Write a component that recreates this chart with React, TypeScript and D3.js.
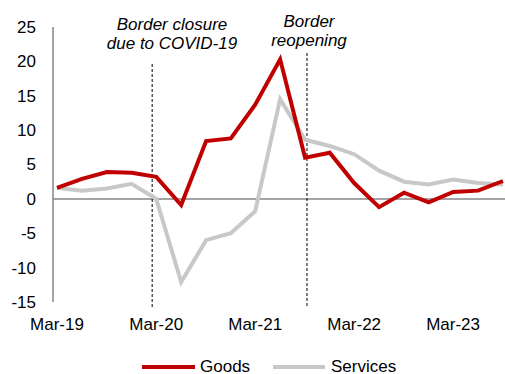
import React from "react";
import * as d3 from "d3";

const quarters = [
  "2019-03", "2019-06", "2019-09", "2019-12",
  "2020-03", "2020-06", "2020-09", "2020-12",
  "2021-03", "2021-06", "2021-09", "2021-12",
  "2022-03", "2022-06", "2022-09", "2022-12",
  "2023-03", "2023-06", "2023-09",
];
const goods = [1.6, 2.9, 3.9, 3.8, 3.2, -0.9, 8.4, 8.8, 13.7, 20.3, 6.0, 6.7, 2.3, -1.2, 0.9, -0.5, 1.0, 1.2, 2.6];
const services = [1.6, 1.2, 1.5, 2.2, 0.0, -12.1, -6.0, -5.0, -1.8, 14.5, 8.6, 7.7, 6.5, 4.1, 2.5, 2.1, 2.8, 2.3, 2.1];
const yTicks = [-15, -10, -5, 0, 5, 10, 15, 20, 25];
const xTickDates = ["2019-03", "2020-03", "2021-03", "2022-03", "2023-03"];
const events = [
  { date: "2020-02-15", lines: ["Border closure", "due to COVID-19"] },
  { date: "2021-09-08", lines: ["Border", "reopening"] },
];

const parse = d3.timeParse("%Y-%m");
const parseDay = d3.timeParse("%Y-%m-%d");
const fmt = d3.timeFormat("%b-%y");

export default function App() {
  const W = 505, H = 374;
  const x = d3.scaleTime().domain([parse("2019-03")!, parse("2023-09")!]).range([57, 503]);
  const y = d3.scaleLinear().domain([-15, 25]).range([302, 27]);
  const font = "'Liberation Sans', Arial, sans-serif";

  const line = d3.line<number>()
    .x((_, i) => x(parse(quarters[i])!))
    .y((d) => y(d));

  const labelPos = [
    { cx: 172, ys: [29.5, 48.5], top: 64 },
    { cx: 309, ys: [26.5, 45.5], top: 53 },
  ];

  return (
    <svg width={W} height={H} style={{ position: "absolute", left: 0, top: 0, background: "#fff" }} fontFamily={font}>
      <line x1={53} x2={53} y1={y(25)} y2={y(-15)} stroke="#868686" strokeWidth={1.5} />
      <line x1={53} x2={W} y1={y(0)} y2={y(0)} stroke="#868686" strokeWidth={1.5} />
      {yTicks.map((t) => (
        <text key={t} x={36} y={y(t)} dy="0.35em" textAnchor="end" fontSize={17} fill="#000">{t}</text>
      ))}
      {xTickDates.map((d) => (
        <text key={d} x={x(parse(d)!)} y={329.5} textAnchor="middle" fontSize={17} fill="#000">{fmt(parse(d)!)}</text>
      ))}
      {events.map((e, k) => {
        const ex = x(parseDay(e.date)!);
        const lp = labelPos[k];
        return (
          <g key={k}>
            <line x1={ex} x2={ex} y1={lp.top} y2={308} stroke="#000" strokeWidth={1} strokeDasharray="3,2" />
            {e.lines.map((s, j) => (
              <text key={j} x={lp.cx} y={lp.ys[j]} textAnchor="middle" fontSize={17} fontStyle="italic">{s}</text>
            ))}
          </g>
        );
      })}
      <path d={line(services)!} fill="none" stroke="#C8C8C8" strokeWidth={4} strokeLinejoin="miter" />
      <path d={line(goods)!} fill="none" stroke="#C00000" strokeWidth={4} strokeLinejoin="miter" />
      <line x1={142} x2={195} y1={367} y2={367} stroke="#C00000" strokeWidth={4} />
      <text x={200} y={366.5} dy="0.35em" fontSize={17}>Goods</text>
      <line x1={273} x2={325} y1={367} y2={367} stroke="#C8C8C8" strokeWidth={4} />
      <text x={331} y={366.5} dy="0.35em" fontSize={17}>Services</text>
    </svg>
  );
}
